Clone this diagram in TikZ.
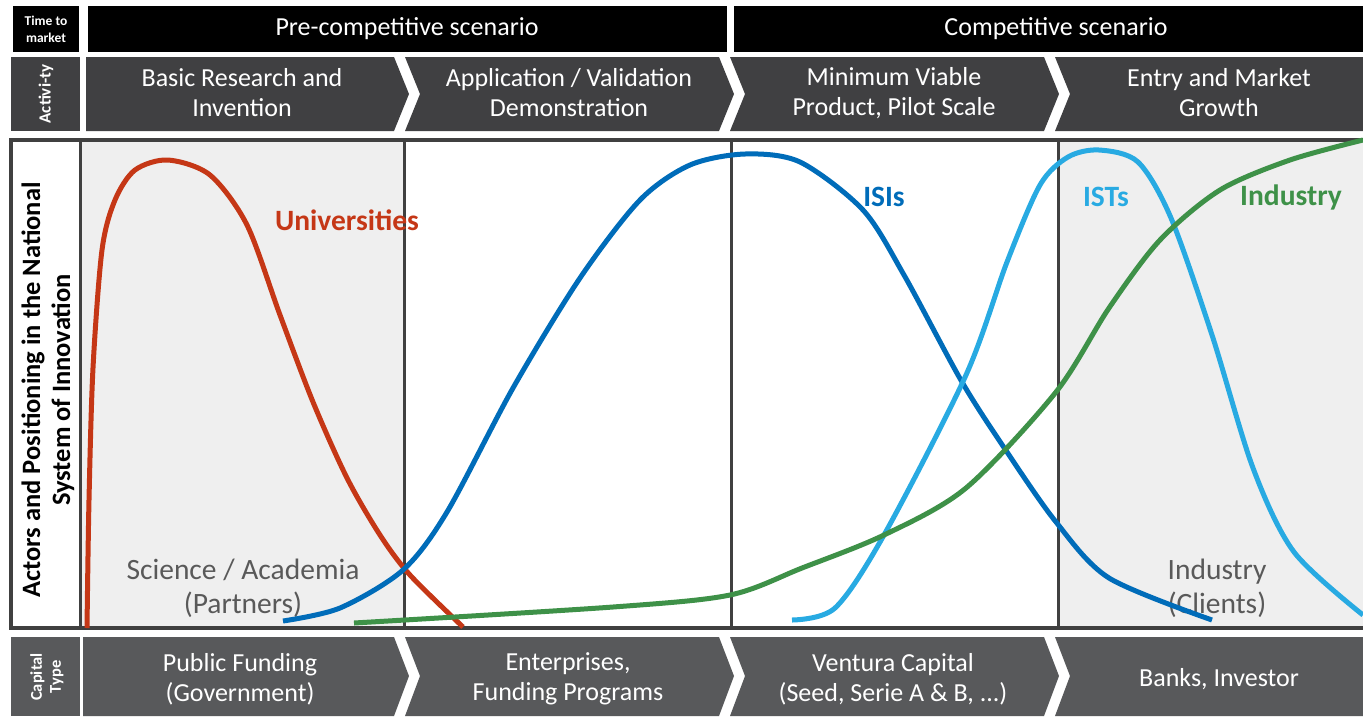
\documentclass[tikz,border=0pt]{standalone}
\usepackage{fontspec}
\setmainfont{Carlito}

\definecolor{unired}{RGB}{197,55,22}
\definecolor{isiblue}{RGB}{0,108,185}
\definecolor{istblue}{RGB}{40,170,226}
\definecolor{indgreen}{RGB}{62,145,72}
\definecolor{framegray}{RGB}{64,64,64}
\definecolor{topgray}{RGB}{64,64,66}
\definecolor{botgray}{RGB}{88,89,91}
\definecolor{shadegray}{RGB}{239,239,239}
\definecolor{labelgray}{RGB}{89,89,89}

\begin{document}
\begin{tikzpicture}[x=1pt, y=-1pt,
    chevtext/.style={text=white, align=center, font=\fontsize{26}{30}\selectfont},
    bartext/.style={text=white, font=\fontsize{26}{30}\selectfont},
    sidetext/.style={text=white, align=center, font=\bfseries\fontsize{16.5}{19}\selectfont, rotate=90},
    actor/.style={font=\bfseries\fontsize{29.5}{34}\selectfont},
    zone/.style={text=labelgray, align=center, font=\fontsize{29.5}{34}\selectfont},
    curve/.style={line width=5pt}]

    \useasboundingbox (0,0) rectangle (1363,716);

    % time to market
    \fill[black] (13,6) rectangle (79,52);
    \node[text=white, align=center, font=\bfseries\fontsize{13.5}{17}\selectfont] (tmk) at (46,29) {Time to\\market};
    \fill[black] (88,6) rectangle (727,52);
    \fill[black] (734,6) rectangle (1363,52);
    \node[bartext] (pre) at (407,29) {Pre-competitive scenario};
    \node[bartext] (comp) at (1056,29) {Competitive scenario};

    % activity row
    \fill[topgray] (11,57) rectangle (80,131);
    \node[sidetext, font=\bfseries\fontsize{17}{19}\selectfont] (act) at (46,94) {Activi-ty};
    \fill[topgray] (86,57) -- (394,57) -- (409,94) -- (394,131) -- (86,131) -- cycle;
    \fill[topgray] (405,57) -- (719,57) -- (734,94) -- (719,131) -- (405,131) -- (420,94) -- cycle;
    \fill[topgray] (730,57) -- (1044,57) -- (1059,94) -- (1044,131) -- (730,131) -- (745,94) -- cycle;
    \fill[topgray] (1055,57) -- (1363,57) -- (1363,131) -- (1055,131) -- (1070,94) -- cycle;
    \node[chevtext] (ph1) at (242,93) {Basic Research and\\Invention};
    \node[chevtext] (ph2) at (569,93) {Application / Validation\\Demonstration};
    \node[chevtext] (ph3) at (894,93) {Minimum Viable\\Product, Pilot Scale};
    \node[chevtext] (ph4) at (1219,93) {Entry and Market\\Growth};

    % actors area
    \fill[shadegray] (80,140) rectangle (404,628);
    \fill[shadegray] (1058,140) rectangle (1366,628);
    \draw[framegray, line width=3pt] (404,140) -- (404,628);
    \draw[framegray, line width=3pt] (731,140) -- (731,628);
    \draw[framegray, line width=3pt] (1058,140) -- (1058,628);
    \draw[framegray, line width=4pt] (11,140) rectangle (1366,628);
    \draw[framegray, line width=3pt] (80,140) -- (80,628);
    \node[rotate=90, align=center, font=\bfseries\fontsize{26.5}{30}\selectfont] (nsi) at (48,390)
        {Actors and Positioning in the National\\System of Innovation};
    \node[zone] (sci) at (243,588) {Science / Academia\\(Partners)};
    \node[zone] (cli) at (1217,588) {Industry\\(Clients)};

    \draw[curve, unired] plot[smooth] coordinates {(87,628) (89,500) (93,368) (102,250) (115,200)
        (135,170) (168,160) (210,175) (247,225) (280,315) (313,402) (347,478) (380,535)
        (410,575) (463,627)};
    \draw[curve, isiblue] plot[smooth] coordinates {(283,621) (340,608) (403,570)
        (447,512) (513,388) (580,278) (640,200) (690,165) (745,154) (800,162)
        (863,210) (904,275) (962,382) (1007,452) (1056,522) (1109,578) (1212,620)};
    \draw[curve, istblue] plot[smooth] coordinates {(792,620) (835,608) (884,535)
        (966,375) (1007,262) (1040,185) (1068,157) (1099,150) (1138,162) (1171,218)
        (1212,335) (1253,468) (1294,552) (1363,615)};
    \draw[curve, indgreen] plot[smooth] coordinates {(354,623) (613,607) (730,595) (802,568)
        (884,535) (966,488) (1056,392) (1109,308) (1160,240) (1220,190)
        (1290,160) (1363,140)};

    \node[actor, text=unired] (uni) at (347,220) {Universities};
    \node[actor, text=isiblue] (isi) at (884,197) {ISIs};
    \node[actor, text=istblue] (ist) at (1106,197) {ISTs};
    \node[actor, text=indgreen] (ind) at (1291,197) {Industry};

    % capital row
    \fill[botgray] (11,637) rectangle (80,716);
    \node[sidetext] (cap) at (47,677) {Capital\\Type};
    \fill[botgray] (83,637) -- (394,637) -- (409,676) -- (394,716) -- (83,716) -- cycle;
    \fill[botgray] (405,637) -- (719,637) -- (734,676) -- (719,716) -- (405,716) -- (420,676) -- cycle;
    \fill[botgray] (730,637) -- (1044,637) -- (1059,676) -- (1044,716) -- (730,716) -- (745,676) -- cycle;
    \fill[botgray] (1055,637) -- (1363,637) -- (1363,716) -- (1055,716) -- (1070,676) -- cycle;
    \node[chevtext] (cf1) at (240,679) {Public Funding\\(Government)};
    \node[chevtext] (cf2) at (568,679) {Enterprises,\\Funding Programs};
    \node[chevtext] (cf3) at (893,679) {Ventura Capital\\(Seed, Serie A \& B, ...)};
    \node[chevtext] (cf4) at (1219,679) {Banks, Investor};
\end{tikzpicture}
\end{document}
